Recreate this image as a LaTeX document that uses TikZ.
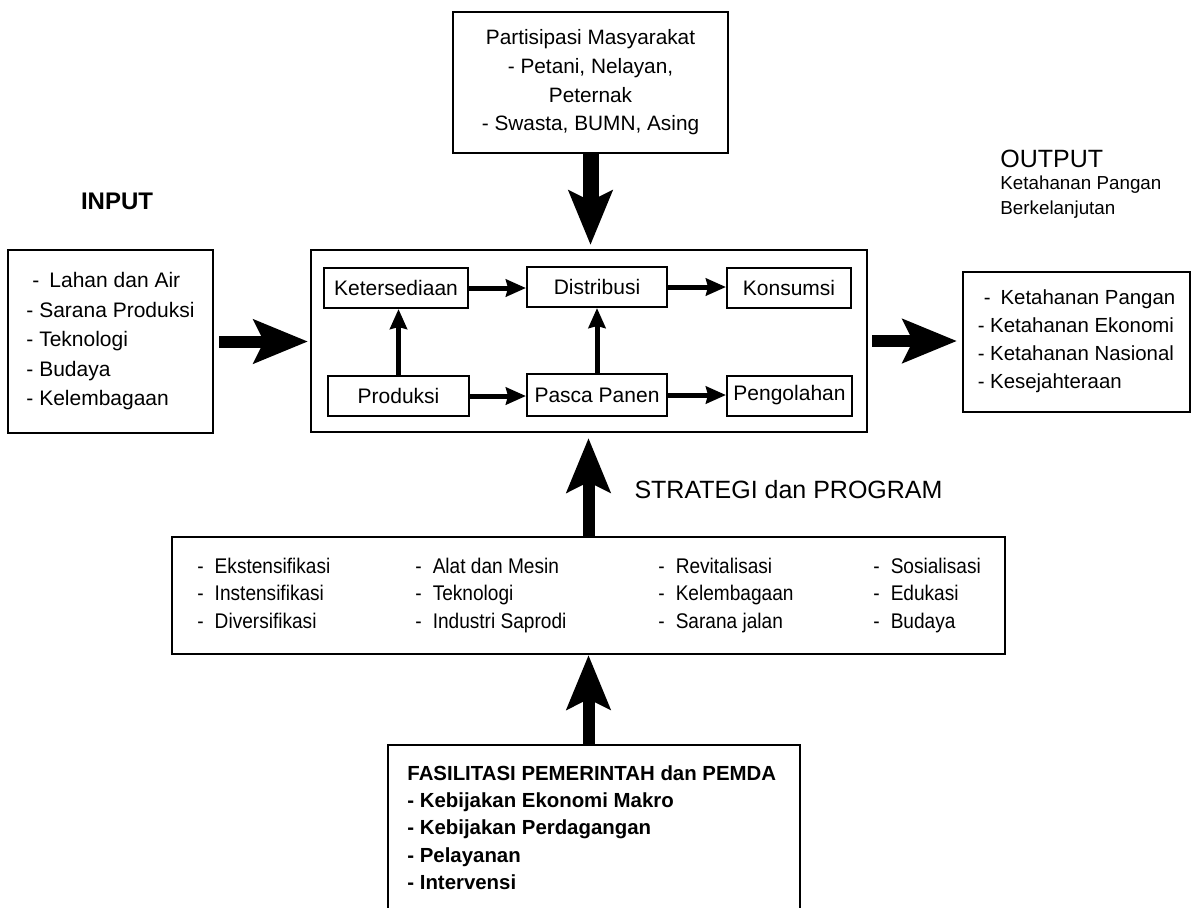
\documentclass[tikz,border=0pt]{standalone}
\usepackage{fontspec}
\setmainfont{Liberation Sans}
\newfontfamily\narrowfont[FakeStretch=0.9]{Liberation Sans}
\newcommand{\butir}{-\hspace{5.5pt}}
\usetikzlibrary{arrows.meta,positioning}

\begin{document}
\begin{tikzpicture}[
        x=0.5pt, y=-0.5pt,
        box/.style={draw, line width=1pt, inner sep=0pt},
        kotak/.style={draw, line width=1pt, minimum height=20pt, inner sep=0pt, font=\fontsize{10.5}{12}\selectfont},
        daftar/.style={align=left, inner sep=0pt, font=\fontsize{10.5}{14.75}\selectfont},
        kolom/.style={anchor=north west, align=left, inner sep=0pt, font=\narrowfont\fontsize{10.6}{13.75}\selectfont},
        judul/.style={inner sep=0pt, font=\fontsize{12.5}{14}\selectfont},
        bigarrow/.style={line width=6pt, -{Stealth[length=27pt,width=21.5pt,inset=5pt]}},
        smallarrow/.style={line width=2.5pt, -{Stealth[length=10pt,width=8.5pt,inset=1pt]}}
    ]
        \useasboundingbox (0,0) rectangle (1192,907);
        \clip (0,0) rectangle (1192,907);

        % Main blocks
        \node[box, minimum width=137.5pt, minimum height=70.5pt, align=center, font=\fontsize{10.4}{14.3}\selectfont] (partisipasi) at (590.5,82.5) {Partisipasi Masyarakat\\- Petani, Nelayan,\\Peternak\\- Swasta, BUMN, Asing};
        \node[box, minimum width=102.5pt, minimum height=91.5pt, daftar] (input) at (110.5,341.5) {\hspace{3pt}-\hspace{5pt}Lahan dan Air\\- Sarana Produksi\\- Teknologi\\- Budaya\\- Kelembagaan};
        \node[box, minimum width=278pt, minimum height=91pt] (sistem) at (589,341) {};
        \node[box, minimum width=113.5pt, minimum height=70pt, daftar, font=\fontsize{10.2}{14}\selectfont] (output) at (1076.5,341.5) {\hspace{3pt}-\hspace{5pt}Ketahanan Pangan\\- Ketahanan Ekonomi\\- Ketahanan Nasional\\- Kesejahteraan};
        \node[box, minimum width=416.5pt, minimum height=58.5pt] (strategi) at (588.5,595.5) {};
        \node[box, minimum width=206pt, minimum height=95pt] (fasilitasi) at (594,840) {};

        % Inner flow
        \node[kotak, minimum width=72pt] (ketersediaan) at (396,288) {Ketersediaan};
        \node[kotak, minimum width=70pt] (distribusi) at (597,287) {Distribusi};
        \node[kotak, minimum width=62pt] (konsumsi) at (789,288) {Konsumsi};
        \node[kotak, minimum width=70.5pt] (produksi) at (398.5,396) {Produksi};
        \node[kotak, minimum width=70pt, minimum height=21pt] (pascapanen) at (597,395) {Pasca Panen};
        \node[kotak, minimum width=62.5pt] (pengolahan) at (789.5,395.5) {Pengolahan};

        % Labels
        \node[inner sep=0pt, font=\bfseries\fontsize{12}{14}\selectfont] (inputlabel) at (117,201) {INPUT};
        \node[judul, anchor=west] (outputlabel) at (1000,159) {OUTPUT};
        \node[anchor=west, align=left, inner sep=0pt, font=\fontsize{9.4}{12.5}\selectfont] (outputket) at (1000,197) {Ketahanan Pangan\\Berkelanjutan};
        \node[judul] (strategilabel) at (788.5,490) {STRATEGI dan PROGRAM};

        % Strategy columns
        \node[kolom] (kolom1) at (197,557.5) {\butir Ekstensifikasi\\\butir Instensifikasi\\\butir Diversifikasi};
        \node[kolom] (kolom2) at (415,557.5) {\butir Alat dan Mesin\\\butir Teknologi\\\butir Industri Saprodi};
        \node[kolom] (kolom3) at (658,557.5) {\butir Revitalisasi\\\butir Kelembagaan\\\butir Sarana jalan};
        \node[kolom] (kolom4) at (873,557.5) {\butir Sosialisasi\\\butir Edukasi\\\butir Budaya};

        % Government support
        \node[anchor=west, align=left, inner sep=0pt, font=\bfseries\fontsize{10.2}{13.6}\selectfont] (fasilitasiteks) at (407,827.5) {FASILITASI PEMERINTAH dan PEMDA\\- Kebijakan Ekonomi Makro\\- Kebijakan Perdagangan\\- Pelayanan\\- Intervensi};

        % Connections
        \draw[smallarrow] (ketersediaan.east) -- (ketersediaan.east -| distribusi.west);
        \draw[smallarrow] (distribusi.east) -- (distribusi.east -| konsumsi.west);
        \draw[smallarrow] (produksi.east) -- (produksi.east -| pascapanen.west);
        \draw[smallarrow] (pascapanen.east) -- (pascapanen.east -| pengolahan.west);
        \draw[smallarrow] (produksi.north) -- (produksi.north |- ketersediaan.south);
        \draw[smallarrow] (pascapanen.north) -- (pascapanen.north |- distribusi.south);

        \draw[bigarrow, line width=8pt, shorten >=2pt] (partisipasi.south) -- (partisipasi.south |- sistem.north);
        \draw[bigarrow, shorten <=2.5pt, shorten >=1pt] (input.east) -- (input.east -| sistem.west);
        \draw[bigarrow, shorten <=2pt, shorten >=2.5pt] (sistem.east) -- (sistem.east -| output.west);
        \draw[bigarrow, shorten >=2.5pt] (strategi.north) -- (strategi.north |- sistem.south);
        \draw[bigarrow] (strategi.south |- fasilitasi.north) -- (strategi.south);
    \end{tikzpicture}
\end{document}
